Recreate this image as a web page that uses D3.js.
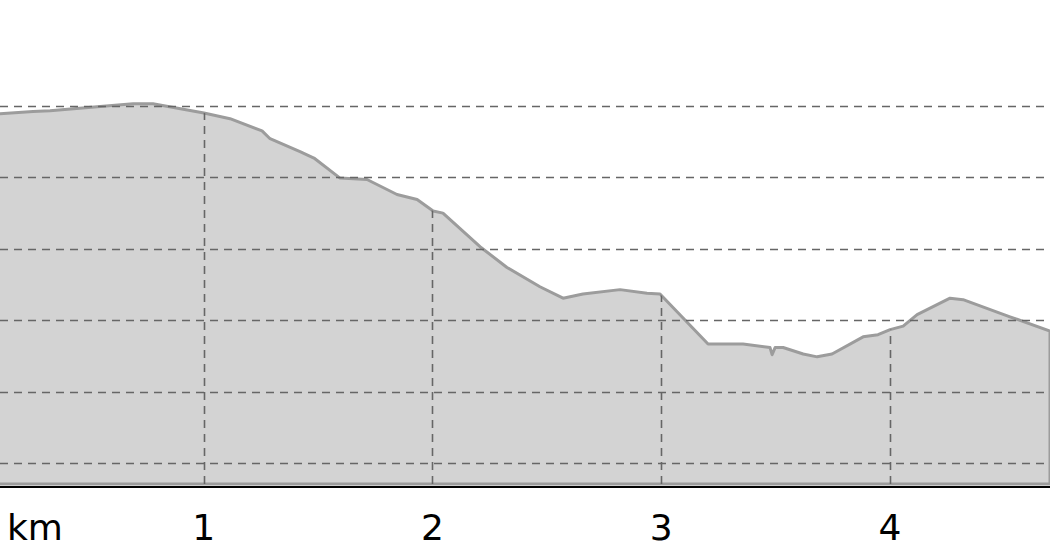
<!DOCTYPE html>
<html>
<head>
  <meta charset="utf-8">
  <title>Elevation profile</title>
  <style>
    body { margin: 0; background: #fff; }
    svg { display: block; }
  </style>
</head>
<body>
  <div id="chart"></div>
  <script src="https://d3js.org/d3.v7.min.js"></script>
  <script>
    // profile data: distance (km) and elevation (m)
    let dist = [0.00, 0.109, 0.254, 0.328, 0.547, 0.691, 0.778, 1.001, 1.115, 1.255,
      1.290, 1.421, 1.482, 1.596, 1.714, 1.845, 1.933, 2.003, 2.046, 2.208,
      2.326, 2.470, 2.571, 2.658, 2.820, 2.938, 2.995, 3.205, 3.358, 3.476,
      3.485, 3.498, 3.533, 3.621, 3.682, 3.747, 3.883, 3.948, 4.001, 4.058,
      4.119, 4.263, 4.320, 4.525, 4.700];
    let elev = [148.6, 148.9, 149.2, 149.3, 149.9, 150.3, 150.3, 149.0, 148.2, 146.5,
      145.4, 143.6, 142.7, 139.9, 139.7, 137.6, 136.9, 135.3, 135.0, 130.3,
      127.4, 124.7, 123.1, 123.7, 124.3, 123.8, 123.7, 116.7, 116.7, 116.2,
      115.2, 116.2, 116.2, 115.3, 114.9, 115.3, 117.7, 118.0, 118.7, 119.2,
      120.8, 123.1, 122.9, 120.5, 118.5];
    let kmTicks = [1, 2, 3, 4];
    let elevGrid = [100, 110, 120, 130, 140, 150];
    let unitLabel = 'km';

    let svgWidth = 1050;
    let svgHeight = 560;
    let baseY = 487;

    let data = dist.map((d, i) => ({ km: d, ele: elev[i] }));

    let x = d3.scaleLinear().domain([0, 4.7]).range([-25, svgWidth]);
    let y = d3.scaleLinear().domain([96.7, 164.8]).range([baseY, 0]);

    let svg = d3.select('#chart').append('svg')
      .attr('width', svgWidth)
      .attr('height', svgHeight)
      .style('font-family', '"DejaVu Sans", sans-serif');

    let area = d3.area()
      .x(d => x(d.km))
      .y0(baseY - 3)
      .y1(d => y(d.ele));

    svg.append('defs').append('clipPath')
      .attr('id', 'profileClip')
      .append('path')
      .attr('d', area(data));

    // filled profile
    svg.append('path')
      .attr('d', area(data))
      .attr('fill', '#d3d3d3')
      .attr('stroke', '#9c9c9c')
      .attr('stroke-width', 3)
      .attr('stroke-linejoin', 'round');

    // horizontal grid
    svg.append('g').selectAll('line')
      .data(elevGrid)
      .join('line')
      .attr('x1', 0)
      .attr('x2', svgWidth)
      .attr('y1', d => Math.round(y(d)) + 0.5)
      .attr('y2', d => Math.round(y(d)) + 0.5)
      .attr('stroke', '#666')
      .attr('stroke-width', 1.6)
      .attr('stroke-dasharray', '8,6');

    // km markers, clipped to the profile
    svg.append('g')
      .attr('clip-path', 'url(#profileClip)')
      .selectAll('line')
      .data(kmTicks)
      .join('line')
      .attr('x1', d => Math.round(x(d)) + 0.5)
      .attr('x2', d => Math.round(x(d)) + 0.5)
      .attr('y1', 0)
      .attr('y2', baseY)
      .attr('stroke', '#666')
      .attr('stroke-width', 1.6)
      .attr('stroke-dasharray', '8,6');

    // baseline
    svg.append('line')
      .attr('x1', 0)
      .attr('x2', svgWidth)
      .attr('y1', baseY)
      .attr('y2', baseY)
      .attr('stroke', '#000')
      .attr('stroke-width', 2);

    // labels
    svg.append('g').selectAll('text')
      .data(kmTicks)
      .join('text')
      .attr('x', d => x(d))
      .attr('y', 540)
      .attr('text-anchor', 'middle')
      .attr('font-size', 36)
      .attr('fill', '#000')
      .text(d => d);

    svg.append('text')
      .attr('x', 7)
      .attr('y', 540)
      .attr('font-size', 36)
      .attr('fill', '#000')
      .text(unitLabel);
  </script>
</body>
</html>
